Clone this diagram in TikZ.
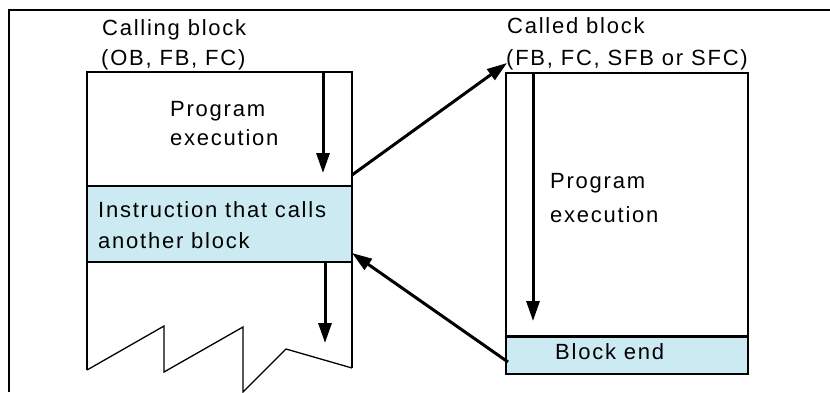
\documentclass[tikz,border=0pt]{standalone}
\usepackage{fontspec}
\setmainfont{Liberation Sans}[LetterSpace=8]
\usetikzlibrary{arrows.meta}
\definecolor{bandblue}{RGB}{204,234,241}

\begin{document}
\begin{tikzpicture}[x=1pt,y=-1pt,font=\fontsize{22}{30}\selectfont,
  txt/.style={anchor=base west,inner sep=0pt},
  flow/.style={-{Triangle[length=20pt,width=13pt]},line width=3pt},
  edge/.style={line width=1.3pt}]
\useasboundingbox (0,0) rectangle (830,392);
\draw[line width=2.5pt] (9,392) -- (9,10) -- (830,10);
% calling block
\fill[bandblue] (87,186) rectangle (352,262);
\draw[edge] (87,370) -- (87,72) -- (352,72) -- (352,368);
\draw[edge] (87,186) -- (352,186) (87,262) -- (352,262);
\draw[edge] (87,370) -- (164,326) -- (164,372) -- (243,327) -- (243,392) -- (286,349) -- (352,368);
\node[txt] (callingA) at (102,35) {Calling block};
\node[txt] (callingB) at (101,65) {(OB, FB, FC)};
\node[txt] (progA) at (170,116) {Program};
\node[txt] (progB) at (170,145) {execution};
\node[txt] (instrA) at (98,217) {Instruction that calls};
\node[txt] (instrB) at (98,248) {another block};
\coordinate (runtop) at (323,72); \coordinate (runend) at (323,173);
\coordinate (resume) at (325,262); \coordinate (resend) at (325,343);
\coordinate (callout) at (352,175); \coordinate (callback) at (352,253);
\draw[flow] (runtop) -- (runend);
\draw[flow] (resume) -- (resend);
% called block
\fill[bandblue] (506,336) rectangle (748,374);
\draw[edge] (506,73) rectangle (748,374);
\draw[line width=3pt] (506,336) -- (748,336);
\node[txt] (calledA) at (507,33) {Called block};
\node[txt] (calledB) at (506,65) {(FB, FC, SFB or SFC)};
\node[txt] (progC) at (550,188) {Program};
\node[txt] (progD) at (550,222) {execution};
\node[txt] (blockend) at (555,359) {Block end};
\coordinate (callin) at (507,63); \coordinate (retout) at (508,362);
\coordinate (subtop) at (533,73); \coordinate (subend) at (533,321);
\draw[flow] (subtop) -- (subend);
\draw[flow] (callout) -- (callin);
\draw[flow] (retout) -- (callback);
\end{tikzpicture}
\end{document}
